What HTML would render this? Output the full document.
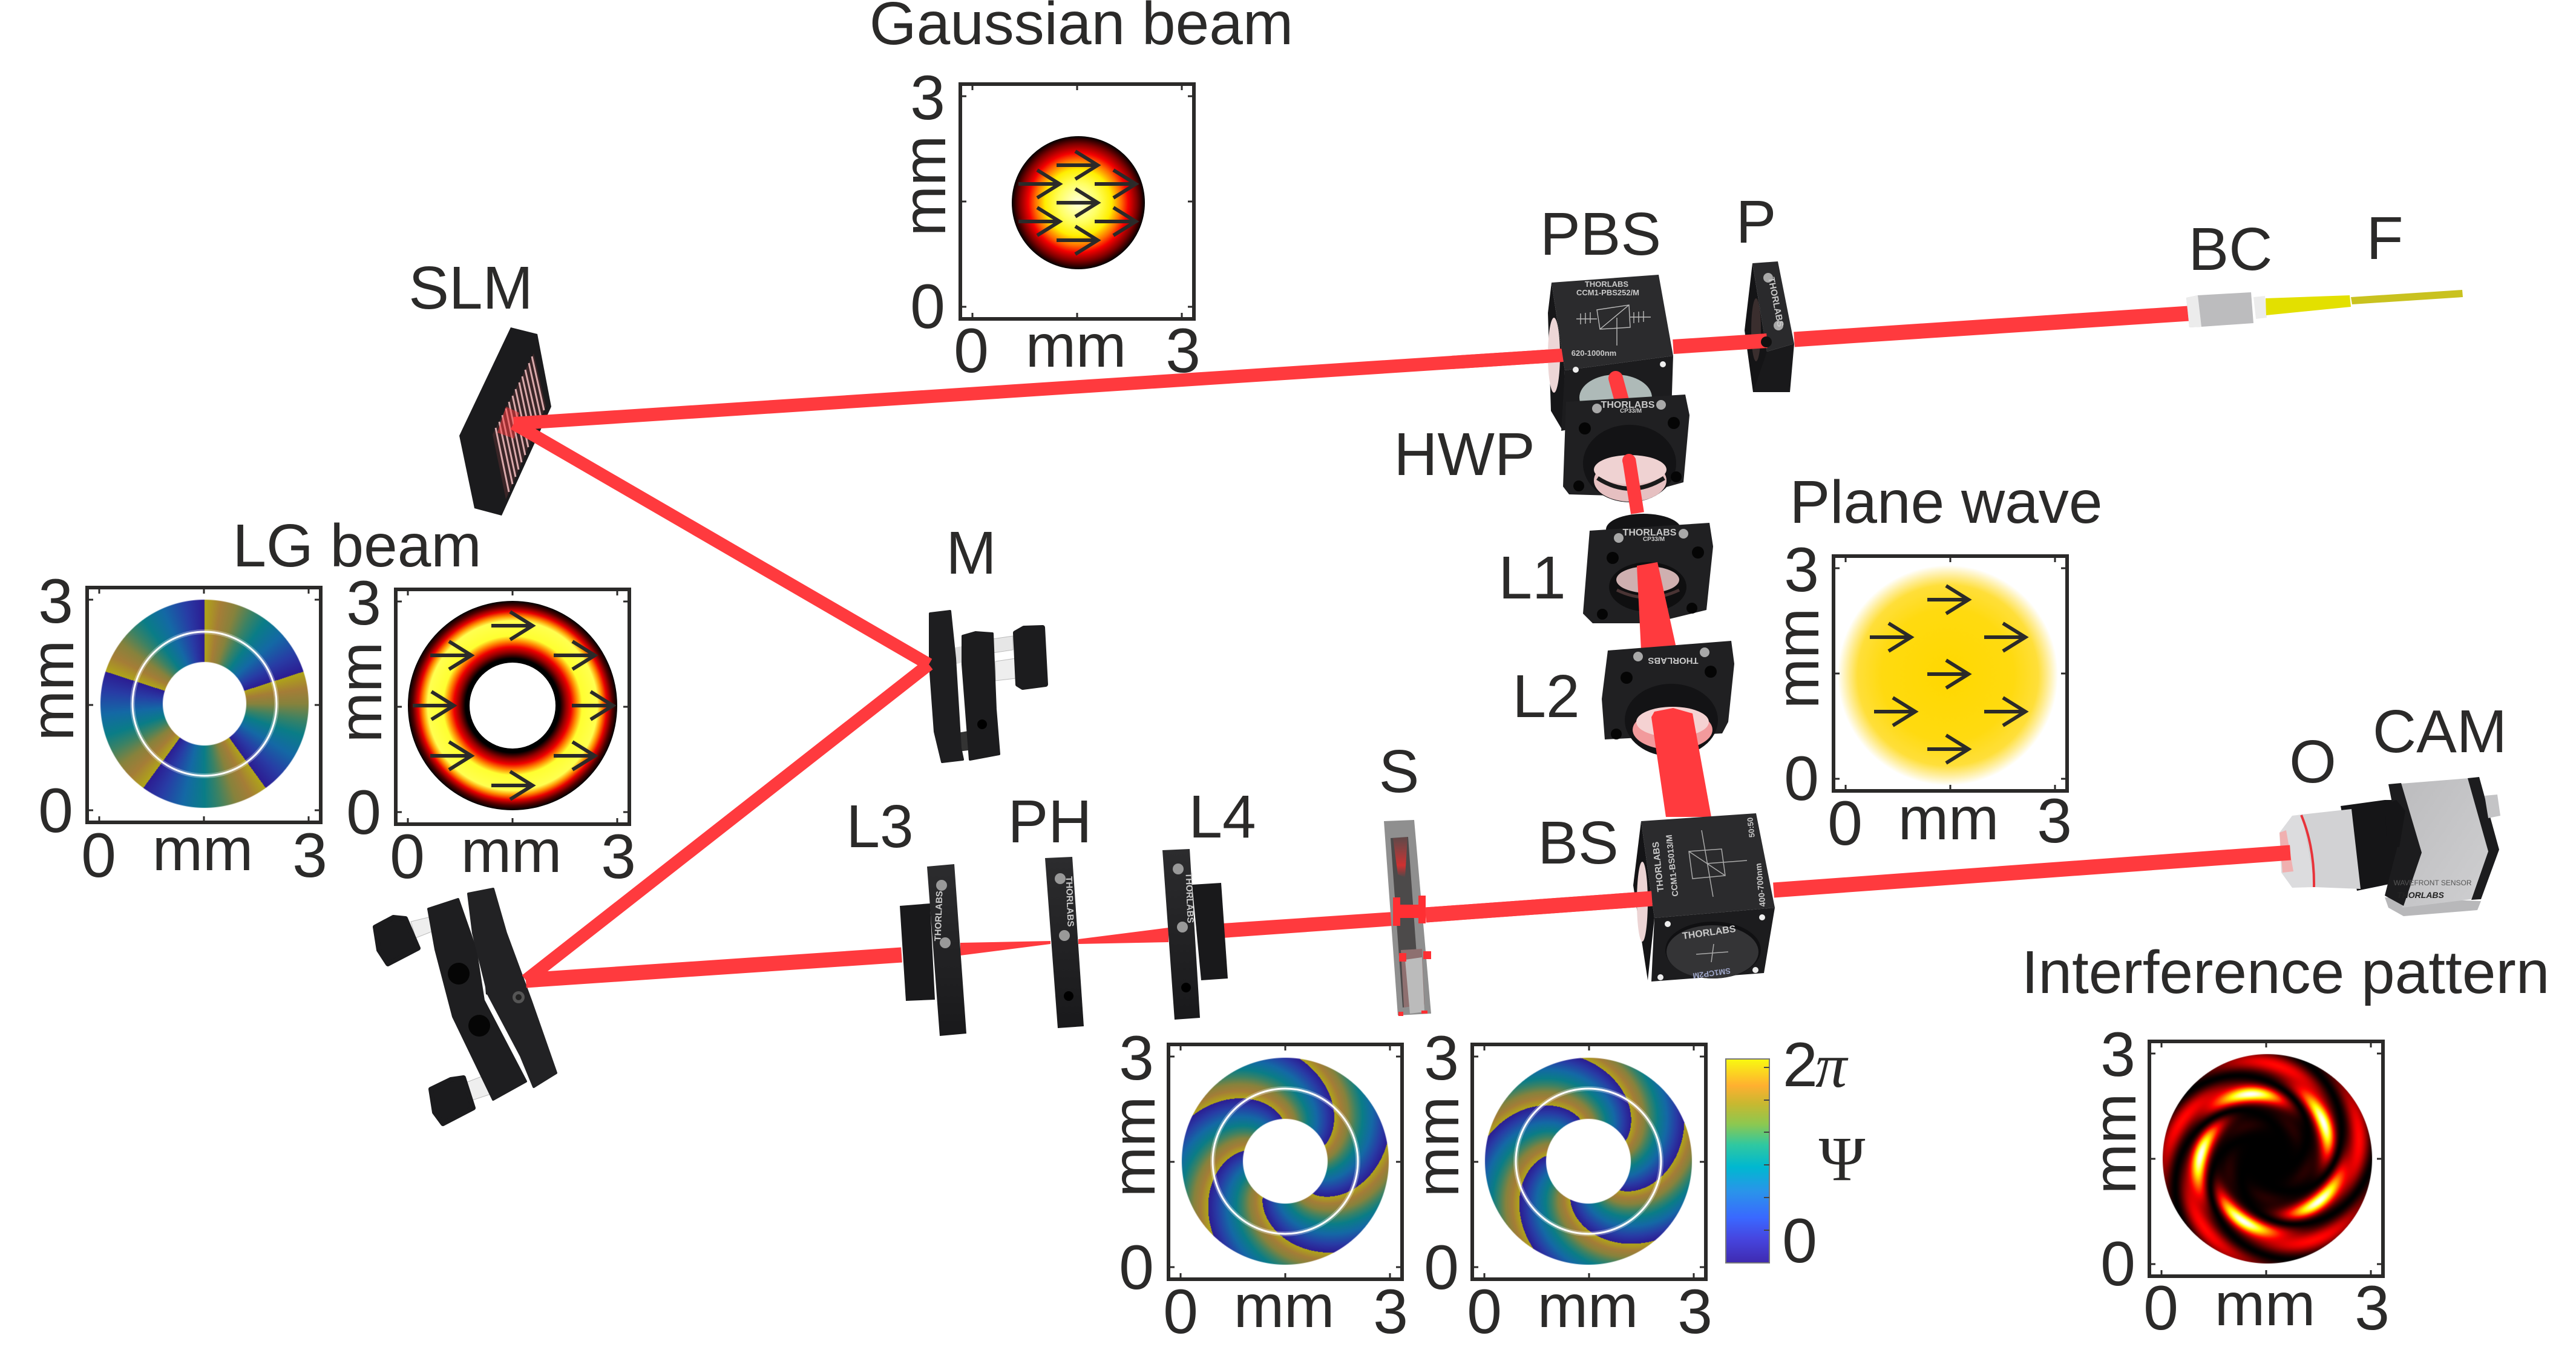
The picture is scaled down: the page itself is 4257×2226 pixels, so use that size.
<!DOCTYPE html>
<html><head><meta charset="utf-8"><title>Optical setup</title>
<style>
html,body{margin:0;padding:0;background:#fff}
#w{position:relative;width:4257px;height:2226px;overflow:hidden;background:#fff}
canvas{position:absolute}
svg{position:absolute;left:0;top:0}
text{font-family:"Liberation Sans",sans-serif;fill:#2b2a29}
.l{font-size:100px;text-anchor:middle}
.d{font-size:104px;text-anchor:middle}
.m{font-size:100px;text-anchor:middle}
.t{fill:#c9c9c9;font-weight:bold;font-size:14px;text-anchor:middle}
</style></head><body><div id="w">
<canvas id="c1" width="346" height="346" style="left:165px;top:990px"></canvas>
<canvas id="c2" width="346" height="346" style="left:1951px;top:1746px"></canvas>
<canvas id="c3" width="346" height="346" style="left:2452px;top:1746px"></canvas>
<canvas id="c4" width="348" height="348" style="left:3573px;top:1741px"></canvas>
<svg width="4257" height="2226" viewBox="0 0 4257 2226" xmlns="http://www.w3.org/2000/svg">
<defs>
<radialGradient id="gg" gradientUnits="userSpaceOnUse" cx="1782" cy="335" r="110">
<stop offset="0" stop-color="#ffffe0"/><stop offset=".3" stop-color="#ffff60"/><stop offset=".5" stop-color="#ffee00"/><stop offset=".65" stop-color="#ff6a00"/><stop offset=".75" stop-color="#f50000"/><stop offset=".88" stop-color="#800000"/><stop offset="1" stop-color="#000"/>
</radialGradient>
<radialGradient id="dg" gradientUnits="userSpaceOnUse" cx="847" cy="1166" r="173">
<stop offset=".41" stop-color="#000"/><stop offset=".45" stop-color="#000"/><stop offset=".51" stop-color="#900000"/><stop offset=".56" stop-color="#f00000"/><stop offset=".61" stop-color="#ff8000"/><stop offset=".665" stop-color="#ffff30"/><stop offset=".81" stop-color="#ffff50"/><stop offset=".855" stop-color="#ff9000"/><stop offset=".9" stop-color="#e80000"/><stop offset=".955" stop-color="#500000"/><stop offset="1" stop-color="#000"/>
</radialGradient>
<radialGradient id="pw" gradientUnits="userSpaceOnUse" cx="3219" cy="1116" r="182">
<stop offset="0" stop-color="#ffd800"/><stop offset=".6" stop-color="#ffda10"/><stop offset=".82" stop-color="#ffdf3a"/><stop offset=".9" stop-color="#ffec90"/><stop offset="1" stop-color="#fff"/>
</radialGradient>
<linearGradient id="cb" x1="0" y1="1" x2="0" y2="0">
<stop offset="0" stop-color="#3f2ab0"/><stop offset=".12" stop-color="#4646e0"/><stop offset=".22" stop-color="#3a68ff"/><stop offset=".35" stop-color="#2a94ea"/><stop offset=".47" stop-color="#00b8d0"/><stop offset=".58" stop-color="#30c8a0"/><stop offset=".68" stop-color="#8cc850"/><stop offset=".78" stop-color="#c8b830"/><stop offset=".87" stop-color="#ffb030"/><stop offset="1" stop-color="#f8fa10"/>
</linearGradient>
<linearGradient id="srd" x1="0" y1="0" x2="0" y2="1"><stop offset="0" stop-color="#b04040" stop-opacity=".2"/><stop offset=".7" stop-color="#d03030"/><stop offset="1" stop-color="#4c4a4a"/></linearGradient>
<linearGradient id="cam" x1="0" y1="0" x2="1" y2="1"><stop offset="0" stop-color="#bcbcbe"/><stop offset="1" stop-color="#cfcfd1"/></linearGradient>
<linearGradient id="body" x1="0" y1="0" x2="0" y2="1"><stop offset="0" stop-color="#2c2c2e"/><stop offset="1" stop-color="#19191b"/></linearGradient>
<g id="fr" fill="none" stroke="#2b2a29">
<rect x="0" y="0" width="386" height="388" stroke-width="6"/>
<path stroke-width="3" d="M20 0v10M193 0v10M366 0v10M20 388v-10M193 388v-10M366 388v-10M0 20h10M0 194h10M0 368h10M386 20h-10M386 194h-10M386 368h-10"/>
</g>
<path id="ar" fill="none" stroke="#2b2a29" stroke-width="6" d="M0 0H68M31-23L68 0L31 23"/>
</defs>

<!-- labels -->
<text class="l" x="1787" y="73">Gaussian beam</text>
<text class="l" x="778" y="510">SLM</text>
<text class="l" x="590" y="936">LG beam</text>
<text class="l" x="1605" y="948">M</text>
<text class="l" x="2645" y="421">PBS</text>
<text class="l" x="2902" y="401">P</text>
<text class="l" x="2420" y="785">HWP</text>
<text class="l" x="2532" y="989">L1</text>
<text class="l" x="2555" y="1185">L2</text>
<text class="l" x="3216" y="864">Plane wave</text>
<text class="l" x="3686" y="446">BC</text>
<text class="l" x="3941" y="428">F</text>
<text class="l" x="1454" y="1400">L3</text>
<text class="l" x="1735" y="1392">PH</text>
<text class="l" x="2020" y="1384">L4</text>
<text class="l" x="2312" y="1309">S</text>
<text class="l" x="2608" y="1427">BS</text>
<text class="l" x="3822" y="1293">O</text>
<text class="l" x="4032" y="1243">CAM</text>
<text class="l" x="3777" y="1641">Interference pattern</text>

<!-- Gaussian plot -->
<circle cx="1782" cy="335" r="110" fill="url(#gg)"/>
<use href="#fr" x="1587" y="139"/>
<use href="#ar" x="1746" y="273"/><use href="#ar" x="1683" y="304"/><use href="#ar" x="1809" y="304"/><use href="#ar" x="1746" y="335"/><use href="#ar" x="1683" y="366"/><use href="#ar" x="1809" y="366"/><use href="#ar" x="1746" y="397"/>
<text class="d" x="1533" y="197">3</text><text class="d" x="1533" y="542">0</text>
<text class="m" transform="translate(1562,307) rotate(-90)">mm</text>
<text class="d" x="1605" y="615">0</text><text class="m" x="1778" y="606">mm</text><text class="d" x="1955" y="615">3</text>

<!-- LG phase -->
<circle cx="338" cy="1163" r="119" fill="none" stroke="#fff" stroke-opacity=".3" stroke-width="8"/>
<circle cx="338" cy="1163" r="119" fill="none" stroke="#fff" stroke-width="3"/>
<use href="#fr" x="144" y="971"/>
<text class="d" x="92" y="1029">3</text><text class="d" x="92" y="1375">0</text>
<text class="m" transform="translate(121,1141) rotate(-90)">mm</text>
<text class="d" x="163" y="1449">0</text><text class="m" x="335" y="1438">mm</text><text class="d" x="512" y="1449">3</text>

<!-- LG intensity -->
<circle cx="847" cy="1166" r="173" fill="url(#dg)"/><circle cx="847" cy="1166" r="71" fill="#fff"/>
<use href="#fr" x="654" y="974"/>
<use href="#ar" x="812" y="1034"/><use href="#ar" x="711" y="1083"/><use href="#ar" x="915" y="1083"/><use href="#ar" x="682" y="1166"/><use href="#ar" x="945" y="1166"/><use href="#ar" x="711" y="1249"/><use href="#ar" x="915" y="1249"/><use href="#ar" x="812" y="1298"/>
<text class="d" x="601" y="1032">3</text><text class="d" x="601" y="1378">0</text>
<text class="m" transform="translate(630,1144) rotate(-90)">mm</text>
<text class="d" x="673" y="1451">0</text><text class="m" x="845" y="1441">mm</text><text class="d" x="1022" y="1451">3</text>

<!-- Plane wave -->
<circle cx="3219" cy="1116" r="182" fill="url(#pw)"/>
<use href="#fr" x="3030" y="919"/>
<use href="#ar" x="3185" y="991"/><use href="#ar" x="3090" y="1053"/><use href="#ar" x="3279" y="1053"/><use href="#ar" x="3185" y="1114"/><use href="#ar" x="3097" y="1176"/><use href="#ar" x="3279" y="1176"/><use href="#ar" x="3185" y="1238"/>
<text class="d" x="2977" y="977">3</text><text class="d" x="2977" y="1322">0</text>
<text class="m" transform="translate(3005,1088) rotate(-90)">mm</text>
<text class="d" x="3049" y="1396">0</text><text class="m" x="3220" y="1387">mm</text><text class="d" x="3395" y="1392">3</text>

<!-- Spiral plots -->
<circle cx="2124" cy="1919" r="120" fill="none" stroke="#fff" stroke-opacity=".3" stroke-width="8"/>
<circle cx="2124" cy="1919" r="120" fill="none" stroke="#fff" stroke-width="3"/>
<use href="#fr" x="1931" y="1726"/>
<text class="d" x="1878" y="1784">3</text><text class="d" x="1878" y="2130">0</text>
<text class="m" transform="translate(1908,1895) rotate(-90)">mm</text>
<text class="d" x="1951" y="2203">0</text><text class="m" x="2122" y="2193">mm</text><text class="d" x="2298" y="2203">3</text>
<circle cx="2625" cy="1919" r="120" fill="none" stroke="#fff" stroke-opacity=".3" stroke-width="8"/>
<circle cx="2625" cy="1919" r="120" fill="none" stroke="#fff" stroke-width="3"/>
<use href="#fr" x="2433" y="1726"/>
<text class="d" x="2382" y="1784">3</text><text class="d" x="2382" y="2130">0</text>
<text class="m" transform="translate(2410,1895) rotate(-90)">mm</text>
<text class="d" x="2453" y="2203">0</text><text class="m" x="2624" y="2193">mm</text><text class="d" x="2801" y="2203">3</text>

<!-- colorbar -->
<rect x="2852" y="1750" width="72" height="337" fill="url(#cb)" stroke="#777" stroke-width="2"/>
<path stroke="#444" stroke-width="2" d="M2924 2033h-9M2924 1979h-9M2924 1925h-9M2924 1871h-9M2924 1818h-9M2924 1764h-9"/>
<text x="2946" y="1795" style="font-size:104px">2</text>
<text x="3000" y="1796" style="font-family:'Liberation Serif',serif;font-style:italic;font-size:104px">π</text>
<text x="3044" y="1950" style="font-family:'Liberation Serif',serif;font-size:104px;text-anchor:middle">Ψ</text>
<text x="2974" y="2086" class="d">0</text>

<!-- Interference -->
<use href="#fr" x="3552" y="1721"/>
<text class="d" x="3500" y="1778">3</text><text class="d" x="3500" y="2124">0</text>
<text class="m" transform="translate(3529,1890) rotate(-90)">mm</text>
<text class="d" x="3571" y="2197">0</text><text class="m" x="3743" y="2190">mm</text><text class="d" x="3920" y="2197">3</text>

<!-- SLM -->
<polygon points="844,541 888,552 911,672 829,852 784,840 759,720" fill="#1b1b1d"/>
<polygon points="882,584 902,672 836,825 814,718" fill="#3a2527"/>
<path stroke="#d9a9ab" stroke-width="3" fill="none" d="M879 589L899 678M874 600L894 690M868 611L889 703M863 622L884 715M858 632L878 727M852 643L873 739M847 654L868 752M841 664L862 764M836 675L857 776M830 686L852 788M825 697L847 800M819 707L841 813"/>
<polygon points="836,672 858,682 850,725 822,715" fill="#ff3a3e" opacity=".5"/>

<!-- mirror M -->
<polygon points="1640,1056 1674,1051 1674,1074 1640,1079" fill="#e6e6e6" stroke="#bbb"/>
<polygon points="1645,1093 1678,1088 1678,1121 1645,1125" fill="#eee" stroke="#bbb"/>
<polygon points="1678,1046 1692,1038 1723,1037 1728,1131 1690,1136 1682,1131" fill="#1c1c1e" stroke="#1c1c1e" stroke-width="8" stroke-linejoin="round"/>
<polygon points="1578,1070 1600,1066 1600,1092 1578,1098" fill="#ddd"/>
<polygon points="1560,1215 1600,1208 1600,1240 1560,1245" fill="#333"/>
<polygon points="1591,1051 1612,1045 1640,1047 1645,1172 1651,1246 1603,1255 1591,1098" fill="#1c1c1e" stroke="#1c1c1e" stroke-width="4" stroke-linejoin="round"/>
<circle cx="1623" cy="1197" r="8" fill="#000"/>
<polygon points="1537,1014 1570,1010 1578,1088 1587,1236 1591,1255 1557,1259 1545,1209 1537,1098" fill="#1e1e20" stroke="#1e1e20" stroke-width="4" stroke-linejoin="round"/>

<!-- lower mirror -->
<polygon points="679,1523 716,1514 720,1537 687,1550" fill="#eee" stroke="#bbb"/>
<polygon points="770,1789 811,1773 820,1805 778,1819" fill="#eee" stroke="#bbb"/>
<polygon points="620,1532 650,1516 670,1518 691,1567 641,1593 626,1570" fill="#1b1b1d" stroke="#1b1b1d" stroke-width="8" stroke-linejoin="round"/>
<polygon points="712,1800 745,1784 766,1781 782,1831 732,1857 718,1838" fill="#1b1b1d" stroke="#1b1b1d" stroke-width="8" stroke-linejoin="round"/>
<polygon points="775,1490 800,1485 815,1530 795,1560" fill="#1e1e20"/>
<polygon points="799,1597 819,1597 826,1653 803,1643" fill="#1a1a1c"/>
<polygon points="708,1502 757,1486 786,1569 799,1653 869,1787 815,1817 749,1680 720,1569" fill="#1e1e20" stroke="#1e1e20" stroke-width="4" stroke-linejoin="round"/>
<polygon points="774,1477 815,1469 836,1542 877,1653 890,1690 919,1773 882,1796 861,1745 807,1643 782,1542" fill="#222224" stroke="#222224" stroke-width="4" stroke-linejoin="round"/>
<circle cx="758" cy="1609" r="18" fill="#050505"/><circle cx="792" cy="1695" r="18" fill="#050505"/>
<circle cx="857" cy="1648" r="10" fill="#555"/><circle cx="857" cy="1648" r="5" fill="#222"/>

<!-- beams SLM/M -->
<g stroke="#ff3a3e" fill="none" stroke-linecap="butt">
<line x1="849" y1="700" x2="1535" y2="1098" stroke-width="21"/>
<line x1="1535" y1="1098" x2="869" y2="1620" stroke-width="21"/>
<line x1="869" y1="1620" x2="1490" y2="1578" stroke-width="25"/>
<line x1="849" y1="700" x2="2583" y2="587" stroke-width="22"/>
</g>

<!-- L3 PH L4 -->
<polygon points="1587,1558 1736,1555 1736,1560 1587,1579" fill="#ff3a3e"/>
<polygon points="1782,1552 1931,1533 1931,1557 1782,1560" fill="#ff3a3e"/>
<polygon points="2020,1526 2302,1507 2302,1530 2020,1550" fill="#ff3a3e"/>
<polygon points="1487,1497 1537,1493 1545,1652 1497,1654" fill="#19191b"/>
<polygon points="1532,1432 1577,1428 1597,1708 1553,1712" fill="url(#body)"/>
<circle cx="1556" cy="1463" r="9" fill="#999"/><circle cx="1562" cy="1558" r="9" fill="#999"/>
<text class="t" transform="translate(1556,1514) rotate(-88)" style="font-size:15px">THORLABS</text>
<polygon points="1727,1418 1772,1416 1791,1696 1748,1699" fill="url(#body)"/>
<circle cx="1752" cy="1452" r="9" fill="#999"/><circle cx="1759" cy="1546" r="9" fill="#999"/>
<circle cx="1766" cy="1646" r="8" fill="#000"/>
<text class="t" transform="translate(1763,1490) rotate(88)" style="font-size:15px">THORLABS</text>
<polygon points="1970,1462 2018,1459 2029,1617 1985,1620" fill="#19191b"/>
<polygon points="1921,1405 1966,1403 1983,1682 1941,1685" fill="url(#body)"/>
<circle cx="1947" cy="1436" r="9" fill="#999"/><circle cx="1954" cy="1532" r="9" fill="#999"/>
<circle cx="1960" cy="1632" r="8" fill="#000"/>
<text class="t" transform="translate(1961,1484) rotate(88)" style="font-size:15px">THORLABS</text>

<!-- S -->
<polygon points="2287,1357 2337,1355 2365,1675 2310,1678" fill="#8f8f8f"/>
<polygon points="2298,1385 2327,1383 2347,1660 2318,1665" fill="#4c4a4a"/>
<polygon points="2302,1385 2326,1383 2322,1450 2310,1445" fill="url(#srd)"/>
<polygon points="2315,1570 2350,1568 2354,1660 2320,1665" fill="#8e7070"/>
<polygon points="2322,1586 2350,1582 2354,1672 2330,1675" fill="#bbb"/>
<g fill="#ff2f33">
<rect x="2302" y="1483" width="12" height="47"/><rect x="2344" y="1480" width="12" height="46"/><rect x="2314" y="1495" width="30" height="22"/>
<rect x="2312" y="1575" width="12" height="14"/><rect x="2352" y="1572" width="13" height="13"/>
<rect x="2311" y="1672" width="8" height="7"/><rect x="2349" y="1670" width="10" height="5"/>
</g>
<line x1="2356" y1="1512" x2="2730" y2="1485" stroke="#ff3a3e" stroke-width="25"/>

<!-- P -->
<polygon points="2896,435 2883,546 2897,648 2925,640 2920,581" fill="#141416"/>
<ellipse cx="2902" cy="545" rx="8" ry="52" fill="#3a2e2e"/>
<polygon points="2920,581 2965,568 2958,648 2897,648" fill="#19191b"/>
<polygon points="2896,435 2938,432 2965,568 2920,581" fill="#2a2a2c"/>
<circle cx="2922" cy="459" r="8" fill="#a8a8a8"/><circle cx="2939" cy="538" r="8" fill="#a8a8a8"/>
<text class="t" transform="translate(2930,500) rotate(79)" style="font-size:15px">THORLABS</text>
<line x1="2765" y1="573" x2="2920" y2="563" stroke="#ff3a3e" stroke-width="24"/>
<line x1="2965" y1="561" x2="3617" y2="518" stroke="#ff3a3e" stroke-width="25"/>
<circle cx="2919" cy="565" r="9" fill="#111"/>

<!-- PBS cube -->
<polygon points="2564,467 2558,517 2563,679 2582,711 2586,612" fill="#161618"/>
<ellipse cx="2568" cy="587" rx="10" ry="62" fill="#edd6d6"/>
<polygon points="2586,612 2765,588 2762,680 2580,712" fill="#1c1c1e"/>
<ellipse cx="2670" cy="657" rx="60" ry="38" fill="#aebab8"/>
<line x1="2400" y1="598.9" x2="2583" y2="587" stroke="#ff3a3e" stroke-width="22"/>
<polygon points="2564,467 2741,454 2765,588 2586,612" fill="#2b2b2d"/>
<circle cx="2604" cy="611" r="5" fill="#eee"/><circle cx="2748" cy="602" r="5" fill="#eee"/>
<text class="t" x="2655" y="474" style="font-size:13px">THORLABS</text>
<text class="t" x="2657" y="488" style="font-size:13px">CCM1-PBS252/M</text>
<text class="t" x="2634" y="588" style="font-size:13px">620-1000nm</text>
<g stroke="#bbb" stroke-width="1.4" fill="none"><polygon points="2639,512 2692,504 2694,541 2644,544"/><path d="M2644 544L2692 504M2672 525v46M2605 527h34M2694 524h34M2612 518v18M2620 517v18M2628 516v18M2700 516v18M2708 515v18M2716 514v18"/></g>
<line x1="2670" y1="625" x2="2685" y2="680" stroke="#ff3a3e" stroke-width="24" stroke-linecap="round"/>

<!-- HWP -->
<polygon points="2588,664 2785,652 2792,686 2782,797 2700,820 2593,817 2583,804" fill="#202022"/>
<ellipse cx="2693" cy="766" rx="77" ry="64" fill="#131315"/>
<ellipse cx="2694" cy="794" rx="60" ry="35" fill="#e6c0c1"/>
<ellipse cx="2694" cy="776" rx="60" ry="24" fill="#efd2d2"/>
<path d="M2640 790Q2694 825 2750 790" stroke="#1a1a1a" stroke-width="7" fill="none"/>
<circle cx="2639" cy="675" r="8" fill="#a8a8a8"/><circle cx="2745" cy="669" r="8" fill="#a8a8a8"/>
<circle cx="2619" cy="708" r="10" fill="#050505"/><circle cx="2766" cy="699" r="10" fill="#050505"/><circle cx="2609" cy="803" r="9" fill="#050505"/><circle cx="2770" cy="788" r="9" fill="#050505"/>
<text class="t" x="2690" y="674" style="font-size:16px">THORLABS</text>
<text class="t" x="2695" y="682" style="font-size:10px">CP33/M</text>
<line x1="2692" y1="759" x2="2706" y2="848" stroke="#ff3a3e" stroke-width="22"/>
<circle cx="2692" cy="761" r="11" fill="#ff3a3e"/>

<!-- L1 -->
<ellipse cx="2716" cy="875" rx="62" ry="26" fill="#131315"/>
<polygon points="2627,877 2825,864 2831,903 2820,1008 2730,1030 2632,1030 2616,1014" fill="#202022"/>
<ellipse cx="2723" cy="970" rx="64" ry="41" fill="#0f0f10"/>
<ellipse cx="2723" cy="958" rx="52" ry="22" fill="#cfb0b0"/>
<path d="M2672 975Q2723 1000 2775 975" stroke="#4a3434" stroke-width="5" fill="none"/>
<circle cx="2675" cy="889" r="8" fill="#a8a8a8"/><circle cx="2782" cy="882" r="8" fill="#a8a8a8"/>
<circle cx="2665" cy="922" r="10" fill="#050505"/><circle cx="2806" cy="913" r="10" fill="#050505"/><circle cx="2648" cy="1015" r="9" fill="#050505"/><circle cx="2796" cy="1005" r="9" fill="#050505"/>
<text class="t" x="2726" y="885" style="font-size:16px">THORLABS</text>
<text class="t" x="2733" y="894" style="font-size:10px">CP33/M</text>
<polygon points="2705,935 2739,929 2770,1070 2712,1075" fill="#ff3a3e"/>

<!-- L2 -->
<polygon points="2657,1075 2861,1059 2866,1097 2856,1193 2846,1212 2652,1222 2647,1155" fill="#202022"/>
<ellipse cx="2762" cy="1190" rx="77" ry="60" fill="#131315"/>
<ellipse cx="2764" cy="1206" rx="66" ry="33" fill="#f29a9c"/>
<ellipse cx="2764" cy="1193" rx="60" ry="25" fill="#f5d2d2"/>
<circle cx="2707" cy="1085" r="8" fill="#a8a8a8"/><circle cx="2817" cy="1078" r="8" fill="#a8a8a8"/>
<circle cx="2688" cy="1120" r="10" fill="#050505"/><circle cx="2827" cy="1110" r="10" fill="#050505"/><circle cx="2671" cy="1213" r="9" fill="#050505"/>
<text class="t" transform="translate(2765,1087) rotate(180)" style="font-size:15px">THORLABS</text>
<polygon points="2729,1185 2734,1176 2765,1170 2797,1179 2828,1350 2753,1350" fill="#ff3a3e"/>

<!-- BS -->
<polygon points="2712,1357 2699,1463 2723,1620 2734,1517" fill="#141416"/>
<ellipse cx="2714" cy="1490" rx="9" ry="66" fill="#ecd4d4"/>
<polygon points="2734,1517 2933,1500 2915,1608 2729,1622" fill="#1c1c1e"/>
<polygon points="2712,1357 2902,1344 2933,1500 2734,1517" fill="#2b2b2d"/>
<line x1="2356" y1="1512" x2="2730" y2="1485" stroke="#ff3a3e" stroke-width="25"/>
<ellipse cx="2831" cy="1570" rx="79" ry="47" fill="#101012"/>
<ellipse cx="2830" cy="1573" rx="76" ry="44" fill="#343436"/>
<g stroke="#aaa" stroke-width="1.5" fill="none">
<polygon points="2791,1407 2845,1403 2851,1447 2797,1452"/>
<path d="M2791 1407L2851 1447M2812 1372L2831 1482M2821 1427L2887 1422M2832 1560L2828 1590M2803 1577L2856 1573"/>
</g>
<text class="t" transform="translate(2745,1432) rotate(-96)" style="font-size:15px">THORLABS</text>
<text class="t" transform="translate(2768,1430) rotate(-96)" style="font-size:14px">CCM1-BS013/M</text>
<text class="t" transform="translate(2898,1367) rotate(-96)" style="font-size:13px">50:50</text>
<text class="t" transform="translate(2914,1462) rotate(-96)" style="font-size:14px">400-700nm</text>
<text class="t" transform="translate(2825,1546) rotate(-8)" style="font-size:16px">THORLABS</text>
<text class="t" transform="translate(2828,1604) rotate(172)" style="font-size:13px;fill:#9ea6c8">SM1CP2M</text>
<circle cx="2756" cy="1527" r="5" fill="#eee"/><circle cx="2912" cy="1516" r="5" fill="#eee"/><circle cx="2744" cy="1615" r="5" fill="#eee"/><circle cx="2901" cy="1603" r="5" fill="#eee"/>

<!-- camera -->
<polygon points="3941,1322 3978,1322 3978,1455 3895,1472 3868,1332" fill="#151517"/>
<polygon points="3804,1346 3886,1337 3901,1469 3825,1466" fill="#d2d2d4"/>
<polygon points="3767,1376 3788,1348 3804,1346 3825,1466 3788,1467 3770,1442" fill="#dcdcde"/>
<path d="M3803 1347Q3825 1400 3824 1466" stroke="#e8333a" stroke-width="4" fill="none"/>
<polygon points="3767,1376 3778,1372 3790,1440 3772,1442" fill="#f0b0b0"/>
<polygon points="3941,1483 4100,1489 4094,1504 3972,1514 3947,1500" fill="#b8b8ba"/>
<polygon points="3968,1295 4080,1286 4112,1407 4084,1486 3970,1500" fill="url(#cam)"/>
<polygon points="3947,1296 3968,1294 4002,1409 3972,1497 3941,1480 3965,1387" fill="#1c1c1e"/>
<polygon points="4078,1286 4097,1284 4130,1404 4100,1486 4084,1487 4112,1407" fill="#1c1c1e"/>
<polygon points="4106,1315 4127,1313 4132,1348 4112,1352" fill="#c4c4c6"/>
<polygon points="3941,1330 3960,1322 3975,1340 3965,1400 3945,1400" fill="#151517"/>
<text x="4020" y="1463" style="font-size:12px;fill:#555;text-anchor:middle">WAVEFRONT SENSOR</text>
<text x="4000" y="1484" style="font-size:14px;font-style:italic;font-weight:bold;fill:#222;text-anchor:middle">THORLABS</text>
<line x1="2931" y1="1471" x2="3785" y2="1409" stroke="#ff3a3e" stroke-width="25"/>

<!-- BC / fiber -->
<polygon points="3613,492 3632,488 3720,483 3724,534 3638,540 3618,541" fill="#bcbcbe"/>
<polygon points="3613,492 3632,488 3638,540 3618,541" fill="#ececec"/>
<polygon points="3724,491 3743,489 3746,525 3728,527" fill="#ececec"/>
<polygon points="3744,493 3883,488 3885,507 3745,521" fill="#e3e000"/>
<polygon points="3885,491 4069,479 4070,491 3887,503" fill="#c9c21f"/>
</svg>
</div>
<script>
(function(){
var S=[[0,44,28,146],[.15,40,60,165],[.33,20,105,165],[.5,10,125,135],[.62,60,130,100],[.75,135,130,60],[.87,165,125,55],[1,175,165,25]];
function lut(v){for(var i=1;i<S.length;i++){if(v<=S[i][0]){var a=S[i-1],b=S[i],t=(v-a[0])/(b[0]-a[0]);return[a[1]+(b[1]-a[1])*t,a[2]+(b[2]-a[2])*t,a[3]+(b[3]-a[3])*t];}}return S[S.length-1].slice(1);}
function phase(id,Ro,Ri,a0,da){
var c=document.getElementById(id),g=c.getContext('2d'),W=c.width,im=g.createImageData(W,W),d=im.data,C=(W-1)/2;
for(var y=0;y<W;y++)for(var x=0;x<W;x++){
var dx=x-C,dy=y-C,r=Math.sqrt(dx*dx+dy*dy),k=(y*W+x)*4;
if(r>Ro+.5||r<Ri-.5){d[k+3]=0;continue;}
var al=Math.atan2(dx,-dy)*180/Math.PI,t=Math.max(0,(r-Ri)/(Ro-Ri));
var b=a0-da*Math.pow(t,1.15);
var m=((5*(al-b))%360+360)%360;
var col=lut(1-m/360);
d[k]=col[0];d[k+1]=col[1];d[k+2]=col[2];
d[k+3]=255*Math.min(1,Math.min(Ro+.5-r,r-Ri+.5));
}
g.putImageData(im,0,0);
}
phase('c1',172,69,0,0);
phase('c2',171,70,68,60);
phase('c3',171,70,61,65);
(function(){
var c=document.getElementById('c4'),g=c.getContext('2d'),W=c.width,im=g.createImageData(W,W),d=im.data,C=(W-1)/2,Ro=173;
function cl(v){return Math.max(0,Math.min(1,v));}
for(var y=0;y<W;y++)for(var x=0;x<W;x++){
var dx=x-C,dy=y-C,r=Math.sqrt(dx*dx+dy*dy),k=(y*W+x)*4;
if(r>Ro+.5){d[k+3]=0;continue;}
var al=Math.atan2(dx,-dy);
var ac=(60-1.15*(r-108))*Math.PI/180;
var co=Math.cos(2.5*(al-ac));co=co*co;
var R=Math.exp(-Math.pow((r-110)/18,2))+.42*Math.exp(-Math.pow((r-155)/26,2))+.06*Math.exp(-Math.pow((r-65)/15,2));
var v=.98*R*Math.pow(co,.9);
d[k]=255*cl(v/.4);d[k+1]=255*cl((v-.4)/.4);d[k+2]=255*cl((v-.8)/.2);
d[k+3]=255*Math.min(1,Ro+.5-r);
}
g.putImageData(im,0,0);
})();
})();
</script>
</body></html>
